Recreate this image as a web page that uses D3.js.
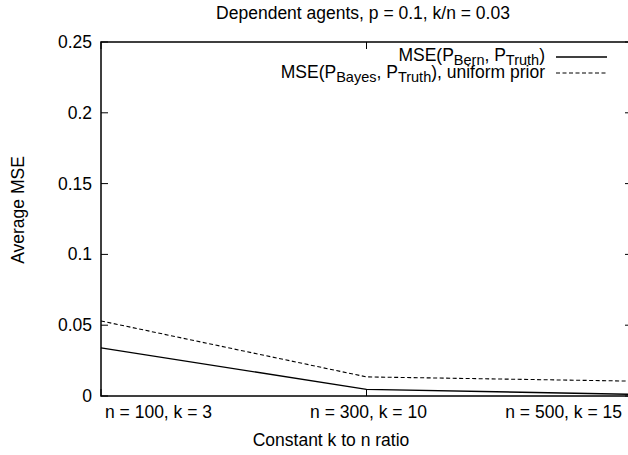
<!DOCTYPE html>
<html>
<head>
<meta charset="utf-8">
<script src="https://cdn.jsdelivr.net/npm/d3@7"></script>
<style>
  body { margin: 0; background: #fff; }
  svg { font-family: "Liberation Sans", Arial, Helvetica, sans-serif; }
</style>
</head>
<body>
<svg id="mse" width="628" height="455"></svg>
<script>
const categories = ["n = 100, k = 3", "n = 300, k = 10", "n = 500, k = 15"];
const bernMSE = [0.034, 0.0047, 0.0012];
const bayesMSE = [0.053, 0.0135, 0.0105];
const yTicks = [0, 0.05, 0.1, 0.15, 0.2, 0.25];

document.addEventListener('DOMContentLoaded', _ => {
  const svg = d3.select("svg#mse");

  const margins = {
    "top": 42,
    "right": 632,
    "bottom": 396,
    "left": 101
  };
  const fontSize = 17.5;

  let xScale = d3.scaleLinear().domain([0, categories.length - 1]).range([margins.left, margins.right]);
  let yScale = d3.scaleLinear().domain([0, 0.25]).range([margins.bottom, margins.top]);

  //tick marks point inward, mirrored on top and right
  let ticks = svg.append("g").attr("stroke", "#000").attr("stroke-width", 1);
  yTicks.forEach(t => {
    ticks.append("line")
      .attr("x1", margins.left).attr("x2", margins.left + 7)
      .attr("y1", yScale(t)).attr("y2", yScale(t));
    ticks.append("line")
      .attr("x1", margins.right - 7).attr("x2", margins.right)
      .attr("y1", yScale(t)).attr("y2", yScale(t));
  });
  categories.forEach((c, i) => {
    ticks.append("line")
      .attr("x1", xScale(i)).attr("x2", xScale(i))
      .attr("y1", margins.bottom).attr("y2", margins.bottom - 7);
    ticks.append("line")
      .attr("x1", xScale(i)).attr("x2", xScale(i))
      .attr("y1", margins.top).attr("y2", margins.top + 7);
  });

  //y tick labels
  yTicks.forEach(t => {
    svg.append("text")
      .text(d3.format("~g")(t))
      .attr("x", margins.left - 9)
      .attr("y", yScale(t) + 6)
      .attr("text-anchor", "end")
      .attr("font-size", fontSize);
  });

  //x tick labels, outer ones kept inside the frame
  const anchors = ["start", "middle", "end"];
  const shifts = [4, 2, -10];
  categories.forEach((c, i) => {
    svg.append("text")
      .text(c)
      .attr("x", xScale(i) + shifts[i])
      .attr("y", margins.bottom + 22)
      .attr("text-anchor", anchors[i])
      .attr("font-size", fontSize);
  });

  //series lines
  let line = d3.line().x((d, i) => xScale(i)).y(d => yScale(d));

  svg.append("path")
    .datum(bernMSE)
    .attr("d", line)
    .attr("fill", "none")
    .attr("stroke", "#000")
    .attr("stroke-width", 1.3);

  svg.append("path")
    .datum(bayesMSE)
    .attr("d", line)
    .attr("fill", "none")
    .attr("stroke", "#000")
    .attr("stroke-width", 1.1)
    .attr("stroke-dasharray", "4,2.5");

  //frame
  svg.append("rect")
    .attr("x", margins.left)
    .attr("y", margins.top)
    .attr("width", margins.right - margins.left)
    .attr("height", margins.bottom - margins.top)
    .attr("fill", "none")
    .attr("stroke", "#000")
    .attr("stroke-width", 1.5);

  //legend entries with subscripts
  function legendText(y, parts) {
    let t = svg.append("text")
      .attr("x", 545)
      .attr("y", y)
      .attr("text-anchor", "end")
      .attr("font-size", fontSize);
    let low = false;
    parts.forEach(p => {
      let sub = p.sub === true;
      let dy = 0;
      if (sub && !low) dy = 3.5;
      if (!sub && low) dy = -3.5;
      low = sub;
      t.append("tspan")
        .text(p.s)
        .attr("dy", dy)
        .attr("font-size", sub ? 14.5 : fontSize);
    });
  }

  legendText(61, [
    {s: "MSE(P"}, {s: "Bern", sub: true}, {s: ", P"}, {s: "Truth", sub: true}, {s: ")"}
  ]);
  legendText(78, [
    {s: "MSE(P"}, {s: "Bayes", sub: true}, {s: ", P"}, {s: "Truth", sub: true}, {s: "), uniform prior"}
  ]);

  svg.append("line")
    .attr("x1", 556).attr("x2", 607)
    .attr("y1", 57).attr("y2", 57)
    .attr("stroke", "#000")
    .attr("stroke-width", 1.3);
  svg.append("line")
    .attr("x1", 556).attr("x2", 607)
    .attr("y1", 73).attr("y2", 73)
    .attr("stroke", "#000")
    .attr("stroke-width", 1.1)
    .attr("stroke-dasharray", "4,2.5");

  //titles
  svg.append("text")
    .text("Dependent agents, p = 0.1, k/n = 0.03")
    .attr("x", 363)
    .attr("y", 19)
    .attr("text-anchor", "middle")
    .attr("font-size", fontSize);

  svg.append("text")
    .text("Constant k to n ratio")
    .attr("x", 331)
    .attr("y", 446)
    .attr("text-anchor", "middle")
    .attr("font-size", fontSize);

  svg.append("text")
    .text("Average MSE")
    .attr("transform", "rotate(-90)")
    .attr("x", -210)
    .attr("y", 24)
    .attr("text-anchor", "middle")
    .attr("font-size", fontSize);
});
</script>
</body>
</html>
